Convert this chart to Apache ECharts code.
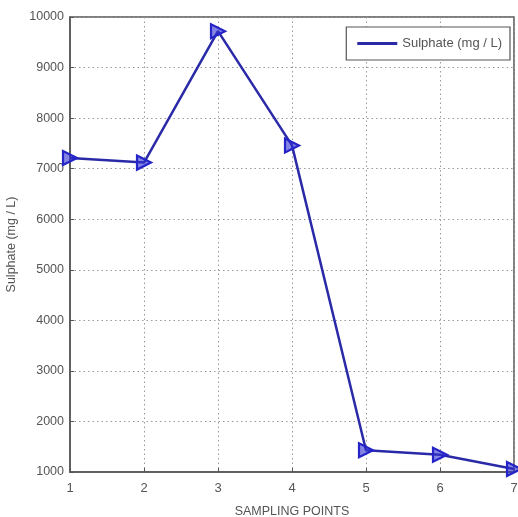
<!DOCTYPE html>
<html><head><meta charset="utf-8">
<script src="https://cdn.jsdelivr.net/npm/echarts@6/dist/echarts.min.js"></script>
<style>html,body{margin:0;padding:0;background:#fff}#c{width:518px;height:517px}</style>
</head><body><div id="c"></div>
<script>
const samplingPoints = [1, 2, 3, 4, 5, 6, 7];
const sulphate = [7210, 7120, 9720, 7460, 1430, 1340, 1060];
const seriesName = 'Sulphate (mg / L)';
const xTicks = [1, 2, 3, 4, 5, 6, 7];
const yTicks = [1000, 2000, 3000, 4000, 5000, 6000, 7000, 8000, 9000, 10000];

const chart = echarts.init(document.getElementById('c'));
const font = 'Liberation Sans, Arial, sans-serif';
const axisColor = '#555';
const textColor = '#555';
const gridLine = {show: true, lineStyle: {color: '#999', type: [1.5, 3], width: 1}};
chart.setOption({
  animation: false,
  backgroundColor: '#fff',
  grid: {left: 70, right: 4, top: 17, bottom: 45, show: true, borderColor: axisColor, borderWidth: 1.5,
         containLabel: false, outerBoundsMode: 'none'},
  legend: {
    data: [{name: seriesName, icon: 'rect', itemStyle: {color: '#2a2aa8', borderWidth: 0}}],
    right: 8, top: 27,
    itemWidth: 40, itemHeight: 3,
    itemGap: 8,
    padding: [10, 8, 10, 11],
    borderColor: '#555', borderWidth: 1.2,
    backgroundColor: '#fff',
    textStyle: {fontFamily: font, fontSize: 13, color: textColor}
  },
  xAxis: {
    type: 'value', min: 1, max: 7, interval: 1,
    name: 'SAMPLING POINTS', nameLocation: 'middle', nameGap: 33,
    nameTextStyle: {fontFamily: font, fontSize: 12.5, color: textColor},
    axisLine: {show: true, lineStyle: {color: axisColor, width: 1.5}},
    axisTick: {show: true, inside: true, length: 4, lineStyle: {color: axisColor}},
    axisLabel: {fontFamily: font, fontSize: 13, color: textColor, margin: 10,
                customValues: xTicks, formatter: v => String(v)},
    splitLine: gridLine
  },
  yAxis: {
    type: 'value', min: 1000, max: 10000, interval: 1000,
    name: seriesName, nameLocation: 'middle', nameGap: 49,
    nameTextStyle: {fontFamily: font, fontSize: 12.5, color: textColor},
    axisLine: {show: true, lineStyle: {color: axisColor, width: 1.5}},
    axisTick: {show: true, inside: true, length: 4, lineStyle: {color: axisColor}},
    axisLabel: {fontFamily: font, fontSize: 12.5, color: textColor, margin: 6,
                customValues: yTicks, formatter: v => String(v)},
    splitLine: gridLine
  },
  series: [{
    name: seriesName,
    type: 'line',
    data: samplingPoints.map((x, i) => [x, sulphate[i]]),
    symbol: 'triangle', symbolRotate: -90, symbolSize: 14,
    lineStyle: {color: '#2a2aa8', width: 2.5},
    itemStyle: {color: 'rgba(50,50,210,0.6)', borderColor: '#2424c8', borderWidth: 2.2},
    clip: false
  }]
});
</script></body></html>
